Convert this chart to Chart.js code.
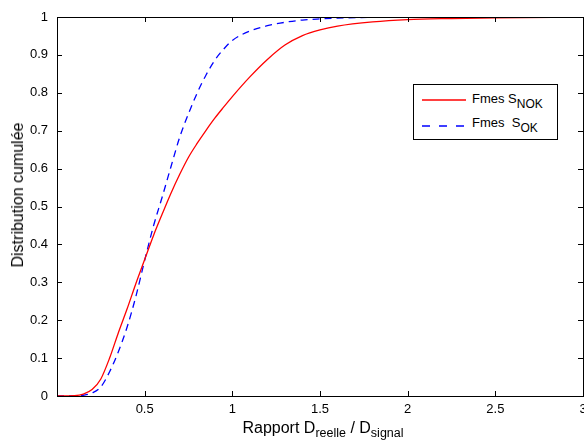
<!DOCTYPE html>
<html>
<head>
<meta charset="utf-8">
<script src="https://cdn.jsdelivr.net/npm/chart.js@4.4.1/dist/chart.umd.min.js"></script>
<style>
  html, body { margin: 0; padding: 0; background: #fff; overflow: hidden; }
  #wrap { position: relative; width: 600px; height: 441px; }
  #cdf { display: block; }
  .txt { position: absolute; font-family: "Liberation Sans", Arial, sans-serif; color: #000; white-space: nowrap; line-height: 1; }
  .txt sub { vertical-align: -0.35em; line-height: 0; }
  #xtitle { left: 0; width: 646px; text-align: center; top: 420px; font-size: 16px; }
  #xtitle sub { font-size: 12.5px; }
  #ytitle { left: 18px; top: 195px; font-size: 16px; transform: translate(-50%, -50%) rotate(-90deg); }
  #legend { left: 413px; top: 84px; width: 143px; height: 54px; border: 1px solid #000; background: #fff; font-size: 13px; }
  #legend svg { position: absolute; left: 8px; }
  #legend .lab { position: absolute; left: 58px; }
  #legend sub { font-size: 12px; vertical-align: -0.4em; }
</style>
</head>
<body>
<div id="wrap">
  <canvas id="cdf" width="600" height="441"></canvas>
  <div class="txt" id="xtitle">Rapport D<sub>reelle</sub> / D<sub>signal</sub></div>
  <div class="txt" id="ytitle">Distribution cumulée</div>
  <div class="txt" id="legend">
    <svg style="top:13px" width="44" height="4"><line x1="0" y1="2" x2="44" y2="2" stroke="#ff0000" stroke-width="1.3"/></svg>
    <span class="lab" style="top:7px">Fmes S<sub>NOK</sub></span>
    <svg style="top:39px" width="44" height="4"><line x1="0" y1="2" x2="44" y2="2" stroke="#0000ff" stroke-width="1.3" stroke-dasharray="8,9"/></svg>
    <span class="lab" style="top:31px">Fmes&nbsp; S<sub>OK</sub></span>
  </div>
</div>
<script>
// rapport D_reelle / D_signal
const ratios = [0, 0.1, 0.15, 0.2, 0.25, 0.3, 0.35, 0.4, 0.45, 0.5, 0.55, 0.6, 0.65, 0.7, 0.75, 0.8,
  0.85, 0.9, 0.95, 1.0, 1.1, 1.2, 1.3, 1.4, 1.5, 1.6, 1.8, 2.0, 2.25, 2.5, 3.0];

// Fmes S_NOK
const cdfNok = [0, 0.001, 0.005, 0.017, 0.045, 0.10, 0.167, 0.23, 0.297, 0.36, 0.423, 0.48, 0.535, 0.585, 0.63, 0.667,
  0.701, 0.733, 0.762, 0.79, 0.842, 0.888, 0.926, 0.951, 0.966, 0.976, 0.987, 0.993, 0.996, 0.998, 1.0];

// Fmes S_OK
const cdfOk = [0, 0, 0.002, 0.008, 0.024, 0.064, 0.117, 0.182, 0.263, 0.358, 0.448, 0.525, 0.605, 0.683, 0.745, 0.80,
  0.847, 0.886, 0.915, 0.938, 0.963, 0.977, 0.986, 0.992, 0.995, 0.997, 0.999, 1, 1, 1, 1];

const xTicks = [0, 0.5, 1, 1.5, 2, 2.5, 3];
const yTicks = [0, 0.1, 0.2, 0.3, 0.4, 0.5, 0.6, 0.7, 0.8, 0.9, 1];

const font = { family: '"Liberation Sans", Arial, sans-serif', size: 13 };

function toPoints(ys) {
  return ratios.map((x, i) => ({ x: x, y: ys[i] }));
}

// cadre + graduations vers l'intérieur (style matlab)
const boxPlugin = {
  id: 'box',
  afterDraw(chart) {
    const { ctx, chartArea: a, scales } = chart;
    ctx.save();
    ctx.strokeStyle = '#000';
    ctx.lineWidth = 1;
    ctx.strokeRect(Math.round(a.left) + 0.5, Math.round(a.top) + 0.5, Math.round(a.right - a.left), Math.round(a.bottom - a.top));
    ctx.beginPath();
    xTicks.forEach(v => {
      const px = Math.round(scales.x.getPixelForValue(v)) + 0.5;
      ctx.moveTo(px, a.bottom); ctx.lineTo(px, a.bottom - 5);
      ctx.moveTo(px, a.top); ctx.lineTo(px, a.top + 5);
    });
    yTicks.forEach(v => {
      const py = Math.round(scales.y.getPixelForValue(v)) + 0.5;
      ctx.moveTo(a.left, py); ctx.lineTo(a.left + 5, py);
      ctx.moveTo(a.right, py); ctx.lineTo(a.right - 5, py);
    });
    ctx.stroke();
    ctx.restore();
  }
};

function initChart() {
  const ctx = document.getElementById('cdf').getContext('2d');
  new Chart(ctx, {
    type: 'line',
    data: {
      datasets: [{
        label: 'Fmes S_NOK',
        data: toPoints(cdfNok),
        borderColor: '#ff0000',
        borderWidth: 1.3,
        pointRadius: 0,
        cubicInterpolationMode: 'monotone'
      }, {
        label: 'Fmes S_OK',
        data: toPoints(cdfOk),
        borderColor: '#0000ff',
        borderWidth: 1.3,
        borderDash: [7, 5],
        pointRadius: 0,
        cubicInterpolationMode: 'monotone'
      }]
    },
    options: {
      responsive: false,
      animation: false,
      layout: { padding: { top: 17, right: 17, left: 0, bottom: 0 } },
      plugins: { legend: { display: false }, tooltip: { enabled: false } },
      scales: {
        x: {
          type: 'linear',
          min: 0, max: 3,
          afterBuildTicks: s => { s.ticks = xTicks.map(v => ({ value: v })); },
          afterFit: s => { s.height = 45; },
          grid: { display: false, drawTicks: false },
          border: { display: false },
          ticks: {
            color: '#000', font: font, padding: 6, maxRotation: 0,
            callback: v => v === 0 ? '' : String(v)
          }
        },
        y: {
          type: 'linear',
          min: 0, max: 1,
          afterBuildTicks: s => { s.ticks = yTicks.map(v => ({ value: v })); },
          afterFit: s => { s.width = 57; },
          grid: { display: false, drawTicks: false },
          border: { display: false },
          ticks: {
            color: '#000', font: font, padding: 9,
            callback: v => String(Math.round(v * 10) / 10)
          }
        }
      }
    },
    plugins: [boxPlugin]
  });
}

window.addEventListener('DOMContentLoaded', initChart);
</script>
</body>
</html>
